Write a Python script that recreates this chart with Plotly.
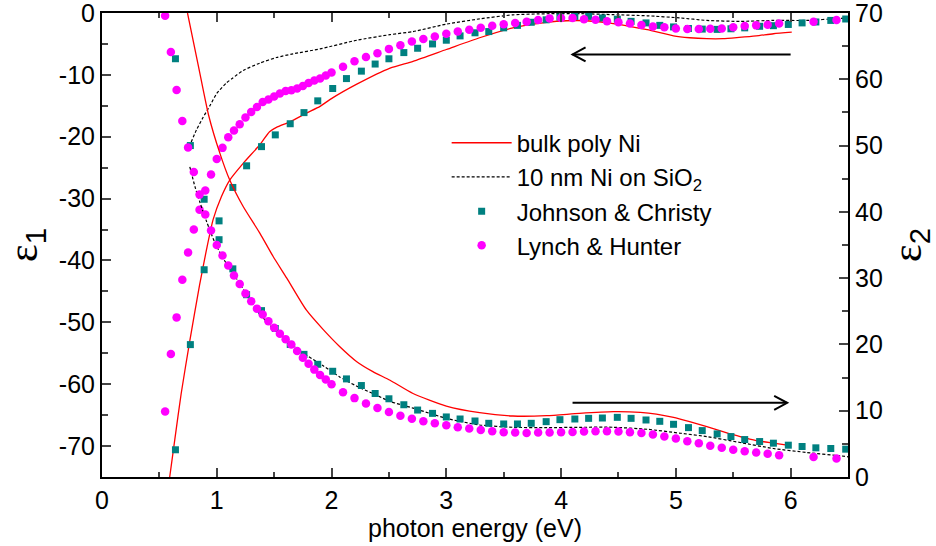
import plotly.graph_objects as go

# ---------------- data ----------------
# Lynch & Hunter (magenta circles)
lh_E = [0.55, 0.60, 0.65, 0.70, 0.75, 0.80, 0.85, 0.90, 0.95, 1.00,
        1.05, 1.10, 1.15, 1.20, 1.25, 1.30, 1.35, 1.40, 1.45, 1.50,
        1.55, 1.60, 1.65, 1.70, 1.75, 1.80, 1.85, 1.90, 1.95, 2.00,
        2.1, 2.2, 2.3, 2.4, 2.5, 2.6, 2.7, 2.8, 2.9, 3.0,
        3.1, 3.2, 3.3, 3.4, 3.5, 3.6, 3.7, 3.8, 3.9, 4.0,
        4.1, 4.2, 4.3, 4.4, 4.5, 4.6, 4.7, 4.8, 4.9, 5.0,
        5.1, 5.2, 5.3, 5.4, 5.5, 5.6, 5.7, 5.8, 5.9, 6.2, 6.4]
lh_e1 = [-64.4, -55.1, -49.2, -43.1, -38.7, -35.0, -31.8, -28.7, -26.1, -23.6,
         -21.8, -20.1, -19.0, -18.0, -16.9, -16.0, -15.2, -14.4, -14.0, -13.5,
         -13.0, -12.6, -12.5, -12.2, -11.8, -11.3, -10.9, -10.6, -10.1, -9.6,
         -8.7, -7.8, -7.1, -6.5, -5.8, -5.2, -4.6, -4.2, -3.8, -3.35,
         -3.0, -2.7, -2.4, -2.05, -1.8, -1.6, -1.4, -1.15, -0.87, -0.8,
         -0.8, -1.0, -1.1, -1.35, -1.5, -1.7, -1.95, -2.2, -2.3, -2.5,
         -2.6, -2.6, -2.55, -2.5, -2.3, -2.1, -2.0, -1.9, -1.7, -1.4, -1.15]
lh_e2 = [69.6, 64.1, 58.4, 53.7, 49.7, 46.0, 42.6, 39.6, 37.2, 35.0,
         33.4, 31.9, 30.4, 29.1, 27.7, 26.5, 25.4, 24.5, 23.5, 22.5,
         21.6, 20.8, 20.0, 19.0, 18.0, 17.1, 16.2, 15.4, 14.7, 14.0,
         12.8, 11.9, 11.1, 10.4, 9.8, 9.25, 8.8, 8.4, 8.1, 7.8,
         7.5, 7.3, 7.1, 6.9, 6.75, 6.7, 6.65, 6.7, 6.7, 6.75,
         6.8, 6.85, 6.9, 6.9, 6.85, 6.75, 6.65, 6.4, 6.1, 5.8,
         5.4, 5.1, 4.7, 4.4, 4.1, 3.9, 3.7, 3.5, 3.3, 3.0, 2.8]

# Johnson & Christy (teal squares)
jc_E = [0.64, 0.77, 0.89, 1.02, 1.14, 1.26, 1.39, 1.51, 1.64, 1.76,
        1.88, 2.01, 2.13, 2.26, 2.38, 2.50, 2.63, 2.75, 2.88, 3.00,
        3.12, 3.25, 3.37, 3.50, 3.62, 3.74, 3.87, 3.99, 4.12, 4.24,
        4.36, 4.49, 4.61, 4.74, 4.86, 4.98, 5.11, 5.23, 5.36, 5.48,
        5.60, 5.73, 5.85, 5.98, 6.10, 6.22, 6.35, 6.48]
jc_e1 = [-70.6, -53.6, -41.5, -33.6, -28.2, -24.7, -21.6, -19.7, -17.9, -16.1,
         -14.2, -12.2, -10.6, -9.4, -8.25, -7.4, -6.4, -5.7, -5.0, -4.4,
         -3.7, -3.2, -3.0, -2.4, -2.0, -1.5, -1.1, -0.65, -0.55, -0.55,
         -0.8, -1.0, -1.35, -1.6, -2.0, -2.25, -2.5, -2.6, -2.65, -2.55,
         -2.4, -2.15, -2.05, -1.85, -1.6, -1.45, -1.2, -0.97]
jc_e2 = [63.1, 50.0, 41.9, 35.8, 31.4, 27.5, 25.1, 22.4, 20.0, 18.5,
         17.0, 15.95, 14.8, 13.8, 12.6, 11.8, 10.9, 10.1, 9.6, 9.06,
         8.75, 8.45, 8.1, 8.0, 8.0, 8.1, 8.35, 8.65, 8.75, 8.85,
         8.9, 9.0, 8.85, 8.6, 8.4, 7.95, 7.45, 7.0, 6.5, 6.1,
         5.65, 5.35, 5.1, 4.8, 4.6, 4.4, 4.3, 4.2]

# bulk poly Ni (red solid)
bulk_E1 = [0.59, 0.634, 0.69, 0.765, 0.85, 0.91, 0.968, 1.04, 1.113, 1.23,
           1.375, 1.46, 1.52, 1.636, 1.78, 1.9, 1.985, 2.22, 2.51, 2.71,
           3.0, 3.29, 3.58, 3.875, 4.05, 4.22, 4.455, 4.75, 4.98, 5.12,
           5.27, 5.41, 5.55, 5.70, 5.85, 6.01]
bulk_e1 = [-75.0, -69.0, -61.5, -53.0, -44.0, -38.3, -33.4, -29.7, -27.0, -24.3,
           -21.3, -19.2, -18.5, -17.6, -16.2, -15.1, -14.0, -11.5, -8.9, -7.8,
           -5.9, -4.0, -2.4, -1.5, -1.25, -1.25, -1.7, -2.7, -3.7, -4.0,
           -4.15, -4.15, -3.95, -3.7, -3.35, -3.1]
bulk_E2 = [0.745, 0.84, 0.93, 1.026, 1.113, 1.23, 1.375, 1.49, 1.61, 1.78,
           1.93, 2.07, 2.22, 2.36, 2.51, 2.71, 3.0, 3.29, 3.58, 3.875,
           4.16, 4.455, 4.69, 4.83, 4.98, 5.12, 5.27, 5.41, 5.56, 5.70,
           5.85, 5.97]
bulk_e2 = [70.0, 62.0, 54.5, 48.9, 44.8, 40.8, 36.8, 33.3, 30.0, 25.2,
           22.2, 19.7, 17.4, 15.9, 14.6, 12.6, 10.7, 9.7, 9.2, 9.25,
           9.6, 9.85, 9.75, 9.5, 9.0, 8.35, 7.6, 6.85, 6.1, 5.5,
           5.1, 4.8]

# 10 nm Ni on SiO2 (black dotted)
film_E1 = [0.76, 0.823, 0.88, 0.94, 1.0, 1.085, 1.14, 1.23, 1.375, 1.52,
           1.665, 1.9, 2.22, 2.51, 2.71, 3.0, 3.29, 3.58, 3.875, 4.16,
           4.455, 4.75, 5.04, 5.27, 5.56, 5.85, 6.14, 6.43, 6.5]
film_e1 = [-21.6, -18.9, -16.9, -15.0, -13.0, -11.3, -10.5, -9.3, -8.1, -7.2,
           -6.6, -5.8, -4.4, -3.5, -3.0, -1.8, -0.95, -0.3, -0.12, -0.1,
           -0.27, -0.45, -0.8, -1.2, -1.35, -1.2, -1.2, -0.87, -0.8]
film_E2 = [0.765, 0.81, 0.852, 0.91, 0.98, 1.055, 1.2, 1.346, 1.49, 1.636,
           1.78, 1.93, 2.07, 2.22, 2.36, 2.51, 2.71, 3.0, 3.29, 3.58,
           3.875, 4.16, 4.455, 4.75, 5.04, 5.27, 5.56, 5.85, 6.14, 6.43, 6.5]
film_e2 = [46.8, 43.8, 41.5, 38.6, 35.5, 33.0, 29.2, 25.2, 22.4, 20.2,
           18.4, 16.75, 15.1, 13.7, 12.6, 11.4, 10.4, 8.85, 7.85, 7.5,
           7.45, 7.5, 7.5, 7.2, 6.6, 6.1, 5.2, 4.3, 3.7, 3.2, 3.05]

# arrows (start, end energy, level)
arrow_e1 = dict(x_from=6.0, x_to=4.1, level=-6.7)
arrow_e2 = dict(x_from=4.1, x_to=5.97, level=11.2)

# tick labels
x_ticks = [0, 1, 2, 3, 4, 5, 6]
y1_ticks = [0, -10, -20, -30, -40, -50, -60, -70]
y1_text = ["0", "-10", "-20", "-30", "-40", "-50", "-60", "-70"]
y2_ticks = [0, 10, 20, 30, 40, 50, 60, 70]

# ---------------- figure ----------------
FONT = "Liberation Sans, Arial, sans-serif"
SERIF = "Liberation Serif, Times New Roman, serif"
RED = "#FF0000"
TEAL = "#008080"
MAG = "#FF00FF"

fig = go.Figure()

fig.add_trace(go.Scatter(x=bulk_E1, y=bulk_e1, mode="lines", name="bulk poly Ni",
                         line=dict(color=RED, width=1.3, shape="spline", smoothing=0.6),
                         legendgroup="bulk", yaxis="y"))
fig.add_trace(go.Scatter(x=bulk_E2, y=bulk_e2, mode="lines", name="bulk poly Ni",
                         line=dict(color=RED, width=1.3, shape="spline", smoothing=0.6),
                         legendgroup="bulk", showlegend=False, yaxis="y2"))
fig.add_trace(go.Scatter(x=film_E1, y=film_e1, mode="lines", name="10 nm Ni on SiO<sub>2</sub>",
                         line=dict(color="black", width=1.2, dash="3px,2px", shape="spline", smoothing=0.6),
                         legendgroup="film", yaxis="y"))
fig.add_trace(go.Scatter(x=film_E2, y=film_e2, mode="lines", name="10 nm Ni on SiO<sub>2</sub>",
                         line=dict(color="black", width=1.2, dash="3px,2px", shape="spline", smoothing=0.6),
                         legendgroup="film", showlegend=False, yaxis="y2"))
fig.add_trace(go.Scatter(x=jc_E, y=jc_e1, mode="markers", name="Johnson &amp; Christy",
                         marker=dict(symbol="square", size=7, color=TEAL),
                         legendgroup="jc", yaxis="y", cliponaxis=False))
fig.add_trace(go.Scatter(x=jc_E, y=jc_e2, mode="markers", name="Johnson &amp; Christy",
                         marker=dict(symbol="square", size=7, color=TEAL),
                         legendgroup="jc", showlegend=False, yaxis="y2", cliponaxis=False))
fig.add_trace(go.Scatter(x=lh_E, y=lh_e1, mode="markers", name="Lynch &amp; Hunter",
                         marker=dict(symbol="circle", size=8.5, color=MAG),
                         legendgroup="lh", yaxis="y", cliponaxis=False))
fig.add_trace(go.Scatter(x=lh_E, y=lh_e2, mode="markers", name="Lynch &amp; Hunter",
                         marker=dict(symbol="circle", size=8.5, color=MAG),
                         legendgroup="lh", showlegend=False, yaxis="y2", cliponaxis=False))
# empty trace to activate the top (mirror) x axis
fig.add_trace(go.Scatter(x=[None], y=[None], xaxis="x2", yaxis="y", showlegend=False,
                         hoverinfo="skip"))

# arrows as shapes
shapes = []
for arr, yref, direction in [(arrow_e1, "y", 1), (arrow_e2, "y2", -1)]:
    shapes.append(dict(type="line", xref="x", yref=yref,
                       x0=arr["x_from"], x1=arr["x_to"], y0=arr["level"], y1=arr["level"],
                       line=dict(color="black", width=2)))
    d = 13 * direction
    shapes.append(dict(type="path", xref="x", yref=yref,
                       xsizemode="pixel", ysizemode="pixel",
                       xanchor=arr["x_to"], yanchor=arr["level"],
                       path=f"M {d},-7 L 0,0 L {d},7",
                       line=dict(color="black", width=2)))

tickfont = dict(family=FONT, size=25, color="black")
xcommon = dict(range=[0, 6.5], tickvals=x_ticks, ticks="inside", ticklen=9, tickwidth=1.5,
               minor=dict(ticks="inside", ticklen=5, dtick=0.5, tickwidth=1.5),
               showline=True, linewidth=2, linecolor="black", automargin=False,
               showgrid=False, zeroline=False, tickfont=tickfont)

eps1 = f"ε<sub><span style='font-family:{FONT}'>1</span></sub>"
eps2 = f"ε<sub><span style='font-family:{FONT}'>2</span></sub>"

fig.update_layout(
    width=936, height=546,
    margin=dict(l=102, r=88, t=13, b=69, autoexpand=False),
    paper_bgcolor="white", plot_bgcolor="white",
    font=dict(family=FONT, size=25, color="black"),
    showlegend=True,
    legend=dict(x=0.462, y=0.768, xanchor="left", yanchor="top",
                bgcolor="rgba(0,0,0,0)", borderwidth=0,
                font=dict(family=FONT, size=24, color="black"),
                itemwidth=60, tracegroupgap=0),
    shapes=shapes,
    xaxis=dict(**xcommon, ticklabeloverflow="allow",
               title=dict(text="photon energy (eV)", font=dict(family=FONT, size=25), standoff=0)),
    xaxis2=dict(**xcommon, overlaying="x", side="top", anchor="y", showticklabels=False),
    yaxis=dict(range=[-75, 0], tickvals=y1_ticks, ticktext=y1_text, ticks="inside", ticklen=9, tickwidth=1.5,
               minor=dict(ticks="inside", ticklen=6, dtick=5, tickwidth=1.5),
               showline=True, linewidth=2, linecolor="black", ticklabeloverflow="allow",
               automargin=False,
               showgrid=False, zeroline=False, tickfont=tickfont,
               title=dict(text=eps1, font=dict(family=SERIF, size=42), standoff=14)),
    yaxis2=dict(range=[0, 70], tickvals=y2_ticks, ticks="inside", ticklen=9, tickwidth=1.5,
                minor=dict(ticks="inside", ticklen=6, dtick=5, tickwidth=1.5),
                showline=True, linewidth=2, linecolor="black", ticklabeloverflow="allow",
                automargin=False,
                overlaying="y", side="right", anchor="x",
                showgrid=False, zeroline=False, tickfont=tickfont,
                title=dict(text=eps2, font=dict(family=SERIF, size=42), standoff=14)),
)

fig.write_html("out.html")
